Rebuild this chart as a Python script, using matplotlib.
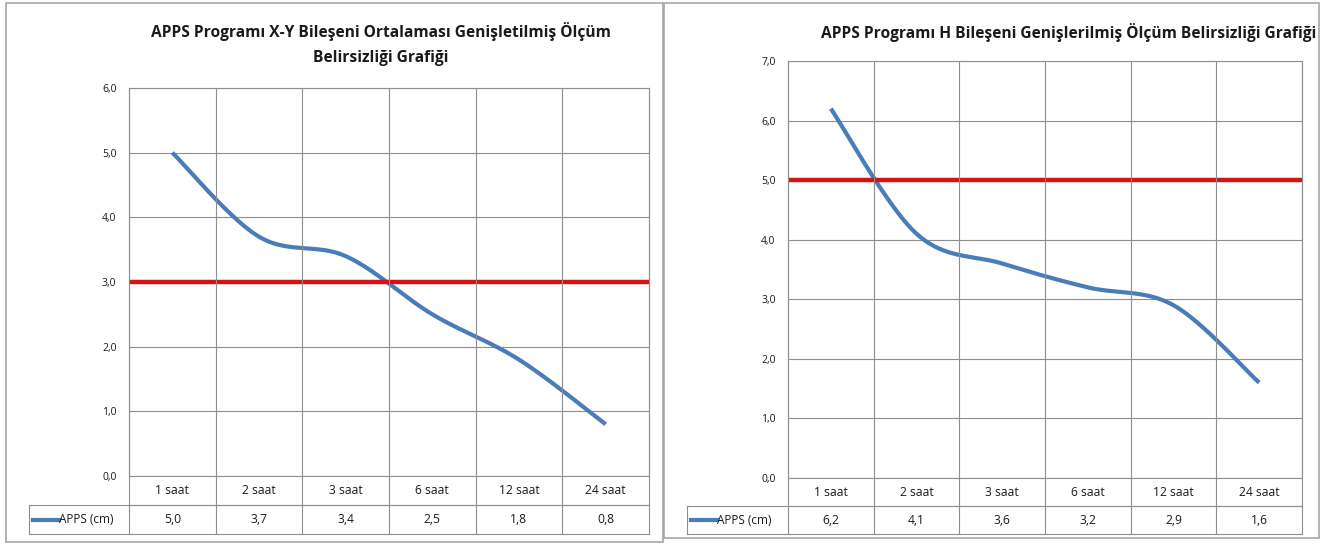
import numpy as np
import matplotlib
matplotlib.use("Agg")
import matplotlib.pyplot as plt
from matplotlib.lines import Line2D
from matplotlib.patches import Rectangle
from matplotlib.transforms import blended_transform_factory

# ---------------- data ----------------
categories = ["1 saat", "2 saat", "3 saat", "6 saat", "12 saat", "24 saat"]
xy_values = [5.0, 3.7, 3.4, 2.5, 1.8, 0.8]
h_values = [6.2, 4.1, 3.6, 3.2, 2.9, 1.6]
xy_limit = 3.0
h_limit = 5.0
xy_yticks = [0, 1, 2, 3, 4, 5, 6]
h_yticks = [0, 1, 2, 3, 4, 5, 6, 7]
series_label = "APPS (cm)"
xy_title = "APPS Programı X-Y Bileşeni Ortalaması Genişletilmiş Ölçüm\nBelirsizliği Grafiği"
h_title = "APPS Programı H Bileşeni Genişlerilmiş Ölçüm Belirsizliği Grafiği"

# ---------------- style ----------------
W, H = 1324, 544
FONT = ["Open Sans", "DejaVu Sans"]
plt.rcParams['font.family'] = FONT
BLUE = "#4A7CB9"
RED = "#D41414"
GRID = "#8E8E8E"
FRAME = "#A8A8A8"
TXT = "#1A1A1A"

fig = plt.figure(figsize=(W / 100, H / 100), dpi=100)


def fx(x):
    return x / W


def fy(y):
    return 1 - y / H


def fmt(v):
    return f"{v:.1f}".replace(".", ",")


def smooth(xs, ys, n=40):
    """Catmull-Rom drawing path through the data points (Excel smoothed line)."""
    xs = np.asarray(xs, float)
    ys = np.asarray(ys, float)
    px = np.concatenate([[xs[0]], xs, [xs[-1]]])
    py = np.concatenate([[ys[0]], ys, [ys[-1]]])
    outx, outy = [], []
    for i in range(1, len(px) - 2):
        p0x, p1x, p2x, p3x = px[i - 1], px[i], px[i + 1], px[i + 2]
        p0y, p1y, p2y, p3y = py[i - 1], py[i], py[i + 1], py[i + 2]
        c1x, c1y = p1x + (p2x - p0x) / 6, p1y + (p2y - p0y) / 6
        c2x, c2y = p2x - (p3x - p1x) / 6, p2y - (p3y - p1y) / 6
        t = np.linspace(0, 1, n)
        b0 = (1 - t) ** 3
        b1 = 3 * (1 - t) ** 2 * t
        b2 = 3 * (1 - t) * t ** 2
        b3 = t ** 3
        outx.extend(b0 * p1x + b1 * c1x + b2 * c2x + b3 * p2x)
        outy.extend(b0 * p1y + b1 * c1y + b2 * c2y + b3 * p2y)
    return np.array(outx), np.array(outy)


def panel(frame, plot, leg_left, head_bot, data_bot, values, limit, yticks,
          title, title_xy, title_size):
    fl, ft, fr, fb = frame
    fig.add_artist(Rectangle((fx(fl), fy(fb)), fx(fr - fl), (fb - ft) / H,
                             transform=fig.transFigure, fill=False,
                             edgecolor=FRAME, linewidth=1.2))
    pl, pt, pr, pb = plot
    ax = fig.add_axes([fx(pl), fy(pb), fx(pr - pl), (pb - pt) / H])
    n = len(categories)
    ax.set_xlim(-0.5, n - 0.5)
    ax.set_ylim(min(yticks), max(yticks))
    ax.set_yticks(yticks)
    ax.set_yticklabels([fmt(v) for v in yticks], fontsize=7.5, color=TXT)
    ax.tick_params(axis='y', length=0, pad=9)
    ax.set_xticks([])
    ax.grid(axis='y', color=GRID, linewidth=0.8)
    for s in ax.spines.values():
        s.set_color(GRID)
        s.set_linewidth(0.8)
    ax.set_axisbelow(True)
    # smoothed series line
    sx, sy = smooth(range(n), values)
    ax.plot(sx, sy, color=BLUE, linewidth=3.0, solid_capstyle='butt', zorder=3)
    # limit line
    ax.axhline(limit, color=RED, linewidth=3.2, zorder=4)

    # data table
    bt = blended_transform_factory(ax.transData, fig.transFigure)
    for b in np.arange(-0.5, n, 1.0):
        fig.add_artist(Line2D([b, b], [fy(pt), fy(data_bot)], transform=bt,
                              color=GRID, linewidth=0.8))
    fig.add_artist(Line2D([fx(pl), fx(pr)], [fy(head_bot)] * 2,
                          transform=fig.transFigure, color=GRID, linewidth=0.8))
    fig.add_artist(Line2D([fx(leg_left), fx(pr)], [fy(head_bot)] * 2,
                          transform=fig.transFigure, color=GRID, linewidth=0.8))
    fig.add_artist(Line2D([fx(leg_left), fx(pr)], [fy(data_bot)] * 2,
                          transform=fig.transFigure, color=GRID, linewidth=0.8))
    fig.add_artist(Line2D([fx(leg_left)] * 2, [fy(head_bot), fy(data_bot)],
                          transform=fig.transFigure, color=GRID, linewidth=0.8))
    hy = fy((pb + head_bot) / 2)
    dy = fy((head_bot + data_bot) / 2)
    for i, (c, v) in enumerate(zip(categories, values)):
        fig.text(i, hy, c, transform=bt, ha='center', va='center',
                 fontsize=8.7, color=TXT)
        fig.text(i, dy, fmt(v), transform=bt, ha='center', va='center',
                 fontsize=8.7, color=TXT)
    # legend key in table
    fig.add_artist(Line2D([fx(leg_left + 4), fx(leg_left + 30)], [dy, dy],
                          transform=fig.transFigure, color=BLUE, linewidth=3.0))
    fig.text(fx(leg_left + 30), dy, series_label, ha='left', va='center',
             fontsize=8.5, color=TXT)
    # title
    fig.text(fx(title_xy[0]), fy(title_xy[1]), title, ha='center', va='center',
             fontsize=title_size, fontweight='bold', color=TXT, linespacing=1.75)
    return ax


panel(frame=(6, 3, 663, 542), plot=(129, 88, 649, 476), leg_left=29,
      head_bot=505, data_bot=534, values=xy_values, limit=xy_limit,
      yticks=xy_yticks, title=xy_title, title_xy=(381, 44), title_size=11.2)

panel(frame=(664, 3, 1319, 538), plot=(788, 61, 1302, 478), leg_left=687,
      head_bot=506, data_bot=534, values=h_values, limit=h_limit,
      yticks=h_yticks, title=h_title, title_xy=(1069, 33), title_size=11.2)

fig.savefig("out.png", dpi=100)
